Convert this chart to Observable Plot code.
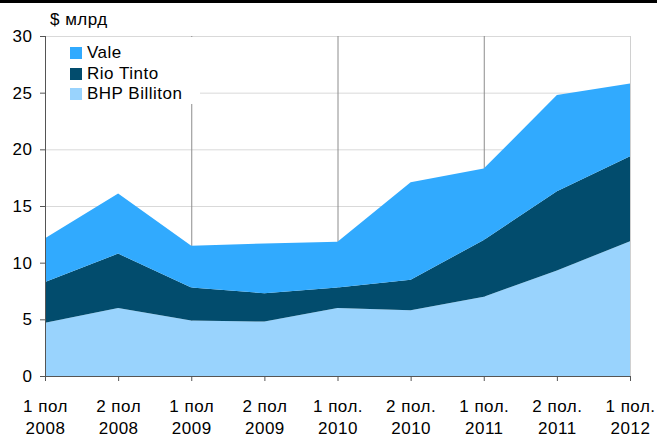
<!DOCTYPE html>
<html>
<head>
<meta charset="utf-8">
<script src="https://cdn.jsdelivr.net/npm/d3@7"></script>
<script src="https://cdn.jsdelivr.net/npm/@observablehq/plot@0.6"></script>
<style>
  body { margin: 0; background: #fff; }
  #wrap { position: relative; width: 657px; height: 435px; font-family: "Liberation Sans", Arial, sans-serif; }
  #topbar { position: absolute; left: 0; top: 0; width: 657px; height: 3px; background: #000; }
  .lbl { position: absolute; font-size: 17px; line-height: 17px; letter-spacing: 0.5px; color: #000; white-space: nowrap; }
  #legend { position: absolute; left: 46px; top: 37px; width: 154px; height: 67px; background: #fff; }
  .sw { position: absolute; width: 12px; height: 12px; }
  svg text { letter-spacing: 0.5px; }
</style>
</head>
<body>
<div id="wrap">
  <div id="chart"></div>
  <div id="topbar"></div>
  <div class="lbl" style="left:50px; top:11px;">$ млрд</div>
  <div id="legend"></div>
</div>
<script>
const periods = ["1 пол", "2 пол", "1 пол", "2 пол", "1 пол.", "2 пол.", "1 пол.", "2 пол.", "1 пол."];
const years = ["2008", "2008", "2009", "2009", "2010", "2010", "2011", "2011", "2012"];
const companies = ["Vale", "Rio Tinto", "BHP Billiton"];
const colors = ["#31AAFE", "#024C6D", "#99D3FD"];
const bhp = [4.7, 6.0, 4.9, 4.8, 6.0, 5.8, 7.0, 9.3, 11.9];
const rio = [3.6, 4.8, 2.9, 2.5, 1.8, 2.7, 5.0, 7.0, 7.5];
const vale = [3.85, 5.3, 3.7, 4.4, 4.05, 8.6, 6.3, 8.5, 6.4];
const yTicks = [0, 5, 10, 15, 20, 25, 30];

const series = {"BHP Billiton": bhp, "Rio Tinto": rio, "Vale": vale};
const data = [];
for (const c of ["BHP Billiton", "Rio Tinto", "Vale"]) {
  series[c].forEach((v, i) => data.push({i, v, company: c}));
}
const idx = periods.map((_, i) => i);

const chart = Plot.plot({
  width: 657,
  height: 435,
  marginLeft: 45,
  marginRight: 27,
  marginTop: 36,
  marginBottom: 59,
  style: {fontFamily: "'Liberation Sans', Arial, sans-serif", fontSize: "17px", color: "#000", background: "transparent"},
  x: {domain: [0, idx.length - 1]},
  y: {domain: [0, 30]},
  color: {domain: companies, range: colors},
  marks: [
    Plot.ruleY(yTicks.filter(d => d > 0), {stroke: "#d9d9d9"}),
    Plot.ruleX([2, 4, 6], {stroke: "#8c8c8c"}),
    Plot.areaY(data, {x: "i", y: "v", fill: "company", order: ["BHP Billiton", "Rio Tinto", "Vale"]}),
    Plot.ruleX([idx.length - 1], {stroke: "#d0d0d0"}),
    Plot.ruleX([0], {stroke: "#555"}),
    Plot.ruleY([0], {stroke: "#555"}),
    Plot.axisY({ticks: yTicks, tickSize: 5, tickPadding: 8, label: null, stroke: "#555"}),
    Plot.axisX({ticks: idx, tickSize: 5, tickPadding: 18, tickFormat: i => periods[i], label: null, stroke: "#555"}),
    Plot.axisX({ticks: idx, tickSize: 0, tickPadding: 45, tickFormat: i => years[i], label: null})
  ]
});
document.getElementById("chart").appendChild(chart);

const legend = document.getElementById("legend");
const baselines = [58.5, 79.5, 99.5];
const swTops = [47, 67.5, 88];
companies.forEach((c, k) => {
  const sw = document.createElement("div");
  sw.className = "sw";
  sw.style.left = (70 - 46) + "px";
  sw.style.top = (swTops[k] - 37) + "px";
  sw.style.background = colors[k];
  legend.appendChild(sw);
  const t = document.createElement("div");
  t.className = "lbl";
  t.style.left = (87 - 46) + "px";
  t.style.top = (baselines[k] - 14.4 - 37) + "px";
  t.textContent = c;
  legend.appendChild(t);
});
</script>
</body>
</html>
